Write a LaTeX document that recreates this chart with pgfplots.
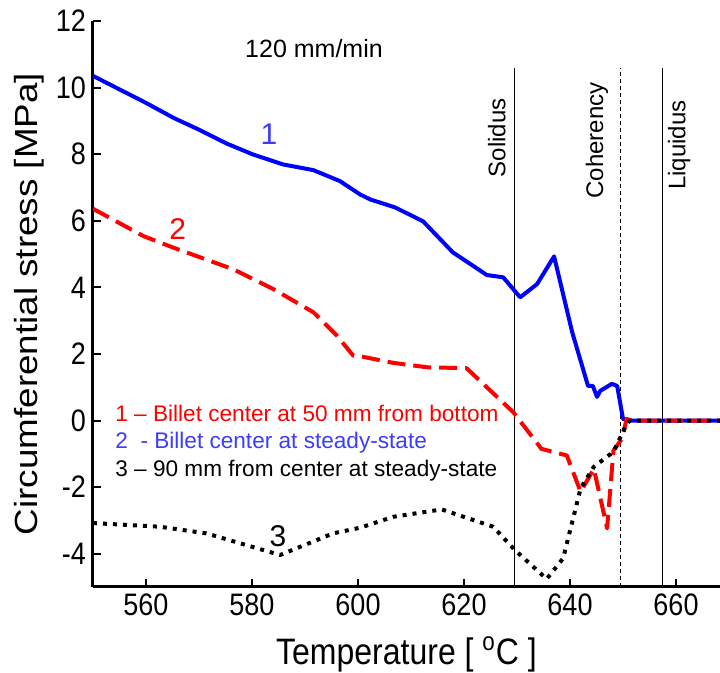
\documentclass[border=0pt]{standalone}
\usepackage{pgfplots}
\pgfplotsset{compat=1.18}
\usepackage{fontspec}
\setmainfont{Liberation Sans}
\usepackage{graphicx}
\newcommand\vs[1]{\scalebox{1}[1.15]{#1}}
\newcommand\hs[1]{\scalebox{1.15}[1]{#1}}
\definecolor{tblue}{RGB}{60,60,255}
\definecolor{cblue}{RGB}{0,0,255}
\definecolor{cred}{RGB}{255,0,0}
\begin{document}
\begin{tikzpicture}
\begin{axis}[
  at={(0,0)}, anchor=south west,
  scale only axis, width=313.5pt, height=283pt,
  xmin=550, xmax=668.3, ymin=-5, ymax=12,
  axis x line*=bottom, axis y line*=left,
  axis line style={line width=1.5pt, black},
  tick align=inside,
  major tick length=4pt,
  every tick/.style={black, line width=1pt},
  xtick={560,580,...,660}, ytick={-4,-2,...,12},
  /pgf/number format/assume math mode=true,
  xticklabel={\vs{\pgfmathprintnumber{\tick}}},
  yticklabel={\vs{\pgfmathprintnumber{\tick}}},
  ticklabel style={font=\fontsize{13.5}{16}\selectfont},
  xlabel={\vs{Temperature [ \textsuperscript{o}C ]}},
  ylabel={\hs{Circumferential stress [MPa]}},
  every axis x label/.style={at={(axis description cs:0.5,-0.1378)}, anchor=base, inner sep=0pt, font=\fontsize{16}{19}\selectfont},
  every axis y label/.style={at={(axis description cs:-0.0766,0.5)}, rotate=90, anchor=south, inner sep=0pt, font=\fontsize{16}{19}\selectfont},
]
% vertical reference lines
\addplot[black, line width=0.5pt] coordinates {(629.6,-5) (629.6,10.59)};
\addplot[black, line width=0.5pt, dash pattern=on 2pt off 1.5pt] coordinates {(649.6,-5) (649.6,10.59)};
\addplot[black, line width=0.5pt] coordinates {(657.5,-5) (657.5,10.59)};

% curve 1 (blue)
\addplot[cblue, line width=2pt, line join=round] coordinates {
(550,10.35) (560,9.54) (565.2,9.09) (570.2,8.72) (575.2,8.32) (580.2,7.99)
(585.9,7.69) (591.6,7.52) (596.6,7.19) (600.4,6.79) (602.3,6.64) (607,6.4)
(612.3,5.98) (617.9,5.05) (624.3,4.37) (627.4,4.3) (630.6,3.7) (633.8,4.1)
(637,4.93) (640.4,2.66) (643.4,1.04) (644.3,1.04) (645.1,0.71) (645.7,0.89)
(647.9,1.1) (648.9,1.04) (650.0,0.05) (651,0) (668.3,0)};

% curve 2 (red dashed)
\addplot[cred, line width=2pt, line join=round, dash pattern=on 9pt off 4pt] coordinates {
(550,6.36) (559.5,5.54) (565.2,5.19) (576.5,4.54) (584,3.95) (591.6,3.25)
(596,2.55) (599.1,1.95) (600.4,1.93) (606.7,1.73) (613,1.6) (620.5,1.57)
(629.3,0.25) (634.6,-0.85) (639.4,-1.05) (642,-2.14) (644.5,-1.45) (647,-3.24)
(648.2,-0.9) (649.8,-0.55) (650.7,0.05) (651.5,0) (668.3,0)};

% curve 3 (black dotted)
\addplot[black, line width=2pt, line join=round, dash pattern=on 2pt off 3pt] coordinates {
(550,-3.08) (562.6,-3.19) (571.4,-3.39) (585.3,-4.04) (595.3,-3.39) (600.4,-3.22)
(606.7,-2.89) (615.8,-2.67) (625.5,-3.19) (629.6,-3.89) (635.6,-4.76) (638.7,-4.14)
(642,-2.04) (644.5,-1.39) (648.2,-0.94) (650.7,-0.1) (651.3,0) (668.3,0)};

\node[font=\fontsize{12.5}{15}\selectfont, inner sep=0pt] at (axis cs:591.7,11.16) {120 mm/min};
\node[font=\fontsize{15}{18}\selectfont, text=tblue, inner sep=0pt] at (axis cs:583.2,8.61) {1};
\node[font=\fontsize{15}{18}\selectfont, text=cred, inner sep=0pt] at (axis cs:566.0,5.75) {2};
\node[font=\fontsize{15}{18}\selectfont, text=black, inner sep=0pt] at (axis cs:584.9,-3.47) {3};

\node[font=\fontsize{11.3}{13}\selectfont, text=cred, anchor=base west, inner sep=0pt] at (axis cs:554.15,-0.02) {1 – Billet center at 50 mm from bottom};
\node[font=\fontsize{11.3}{13}\selectfont, text=tblue, anchor=base west, inner sep=0pt] at (axis cs:554.15,-0.83) {2\ \ - Billet center at steady-state};
\node[font=\fontsize{11.3}{13}\selectfont, text=black, anchor=base west, inner sep=0pt] at (axis cs:554.15,-1.67) {3 – 90 mm from center at steady-state};

\node[font=\fontsize{12}{14}\selectfont, rotate=90, anchor=east, inner sep=0pt] at (axis cs:626.2,9.69) {Solidus};
\node[font=\fontsize{12}{14}\selectfont, rotate=90, anchor=east, inner sep=0pt] at (axis cs:645.1,10.17) {Coherency};
\node[font=\fontsize{12}{14}\selectfont, rotate=90, anchor=east, inner sep=0pt] at (axis cs:660.6,9.63) {Liquidus};
\end{axis}
\pgfresetboundingbox
\useasboundingbox (-46.5pt,-43pt) rectangle (313.5pt,293.5pt);
\end{tikzpicture}
\end{document}
